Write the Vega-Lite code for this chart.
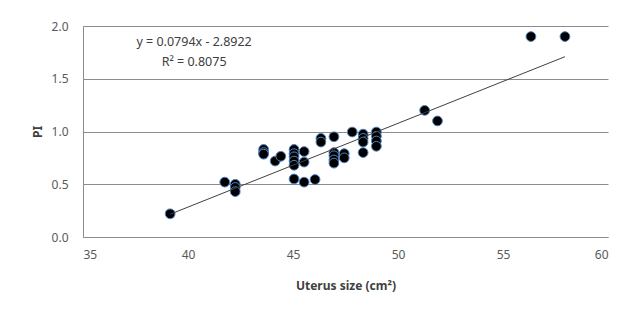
{
  "$schema": "https://vega.github.io/schema/vega-lite/v6.json",
  "autosize": {"type": "none"},
  "padding": {"left": 83, "top": 26, "right": 22, "bottom": 76},
  "width": 525,
  "height": 211,
  "background": "white",
  "config": {
    "font": "Noto Sans",
    "view": {"stroke": null},
    "axis": {
      "labelFont": "Noto Sans",
      "titleFont": "Noto Sans",
      "labelColor": "#595959",
      "labelFontSize": 12,
      "titleColor": "#404040",
      "titleFontSize": 12,
      "ticks": false,
      "domainColor": "#8c8c8c",
      "gridColor": "#8c8c8c"
    }
  },
  "datasets": {
    "points": [
      {"size": 39.15, "pi": 0.22},
      {"size": 41.75, "pi": 0.52},
      {"size": 42.25, "pi": 0.5},
      {"size": 42.25, "pi": 0.47},
      {"size": 42.25, "pi": 0.43},
      {"size": 43.6, "pi": 0.83},
      {"size": 43.6, "pi": 0.8},
      {"size": 43.6, "pi": 0.785},
      {"size": 44.15, "pi": 0.72},
      {"size": 44.42, "pi": 0.765},
      {"size": 45.05, "pi": 0.83},
      {"size": 45.05, "pi": 0.79},
      {"size": 45.05, "pi": 0.76},
      {"size": 45.05, "pi": 0.72},
      {"size": 45.05, "pi": 0.68},
      {"size": 45.05, "pi": 0.55},
      {"size": 45.53, "pi": 0.81},
      {"size": 45.53, "pi": 0.71},
      {"size": 45.53, "pi": 0.52},
      {"size": 46.05, "pi": 0.545},
      {"size": 46.33, "pi": 0.935},
      {"size": 46.33, "pi": 0.9},
      {"size": 46.95, "pi": 0.95},
      {"size": 46.95, "pi": 0.8},
      {"size": 46.95, "pi": 0.77},
      {"size": 46.95, "pi": 0.73},
      {"size": 46.95, "pi": 0.7},
      {"size": 47.44, "pi": 0.79},
      {"size": 47.44, "pi": 0.75},
      {"size": 47.82, "pi": 0.995},
      {"size": 48.34, "pi": 0.975},
      {"size": 48.34, "pi": 0.935},
      {"size": 48.34, "pi": 0.9},
      {"size": 48.34, "pi": 0.8},
      {"size": 48.97, "pi": 0.995},
      {"size": 48.97, "pi": 0.955},
      {"size": 48.97, "pi": 0.91},
      {"size": 48.97, "pi": 0.86},
      {"size": 51.27, "pi": 1.2},
      {"size": 51.88, "pi": 1.1},
      {"size": 56.33, "pi": 1.9},
      {"size": 57.95, "pi": 1.9}
    ],
    "trend": [
      {"size": 39.15, "pi": 0.216},
      {"size": 57.95, "pi": 1.709}
    ],
    "label": [
      {"size": 40.29, "pi": 1.848, "text": "y = 0.0794x - 2.8922"},
      {"size": 40.29, "pi": 1.659, "text": "R² = 0.8075"}
    ]
  },
  "layer": [
    {
      "data": {"name": "points"},
      "mark": {"type": "point", "shape": "circle", "filled": true, "fill": "#000000", "stroke": "#4f81bd", "strokeWidth": 1, "size": 95, "opacity": 1},
      "encoding": {
        "x": {
          "field": "size", "type": "quantitative",
          "scale": {"domain": [35, 60], "nice": false, "zero": false},
          "axis": {
            "values": [35, 40, 45, 50, 55, 60],
            "grid": false,
            "labelPadding": 12,
            "title": "Uterus size (cm²)",
            "titleFontWeight": "bold",
            "titleY": 48,
            "titleBaseline": "middle"
          }
        },
        "y": {
          "field": "pi", "type": "quantitative",
          "scale": {"domain": [0, 2], "nice": false},
          "axis": {
            "values": [0, 0.5, 1, 1.5, 2],
            "format": ".1f",
            "grid": true,
            "labelPadding": 15,
            "title": "PI",
            "titleFontWeight": "bold",
            "titleAngle": -90,
            "titleX": -46,
            "titleY": 105.5,
            "titleAlign": "center",
            "titleBaseline": "middle"
          }
        }
      }
    },
    {
      "data": {"name": "trend"},
      "mark": {"type": "line", "color": "#404040", "strokeWidth": 1},
      "encoding": {
        "x": {"field": "size", "type": "quantitative"},
        "y": {"field": "pi", "type": "quantitative"}
      }
    },
    {
      "data": {"name": "label"},
      "mark": {"type": "text", "align": "center", "baseline": "middle", "fontSize": 12.5, "color": "#404040", "font": "Noto Sans"},
      "encoding": {
        "x": {"field": "size", "type": "quantitative"},
        "y": {"field": "pi", "type": "quantitative"},
        "text": {"field": "text"}
      }
    }
  ]
}
